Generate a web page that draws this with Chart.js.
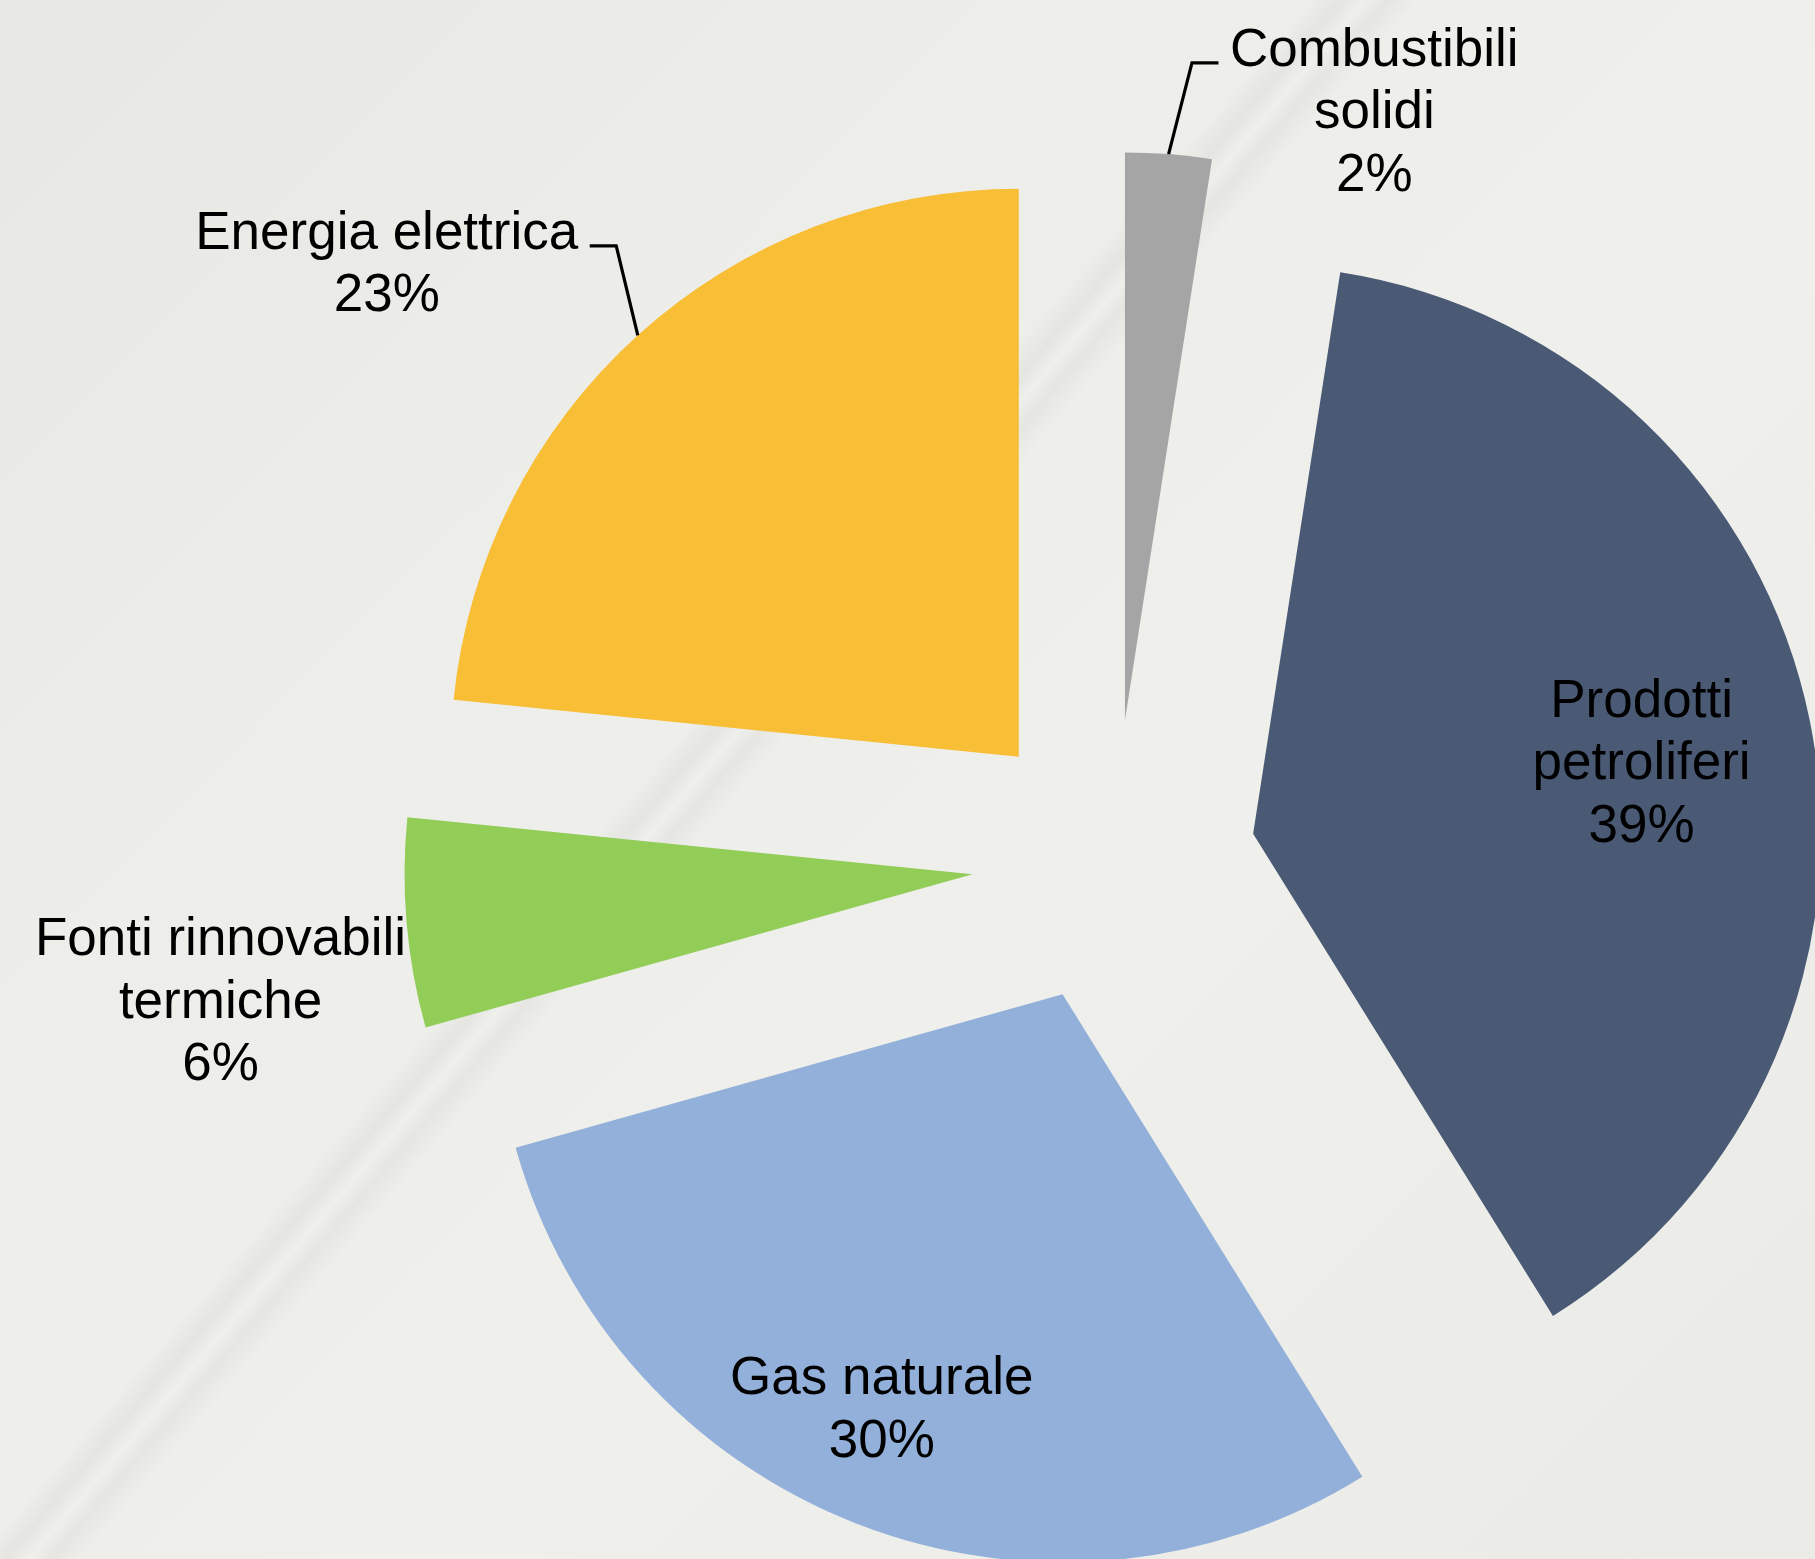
<!DOCTYPE html>
<html>
<head>
<meta charset="utf-8">
<script src="https://cdn.jsdelivr.net/npm/chart.js@4.4.1/dist/chart.umd.min.js"></script>
<style>
html, body { margin: 0; padding: 0; }
body {
  width: 1815px; height: 1559px; overflow: hidden;
  background:
    linear-gradient(130.6deg, rgba(0,0,0,0) 41.6%, rgba(120,120,115,0.08) 42.6%, rgba(255,255,255,0.06) 43.3%, rgba(120,120,115,0.07) 44.0%, rgba(0,0,0,0) 45.0%),
    linear-gradient(135deg, #e7e7e4 0%, #ededea 30%, #efefec 60%, #eaeae7 100%);
}
#wrap { position: relative; width: 1815px; height: 1559px; }
canvas { display: block; }
</style>
</head>
<body>
<div id="wrap"><canvas id="c" width="1815" height="1559"></canvas></div>
<script>
// ---- data ----
const categories = [
  ['Combustibili', 'solidi'],
  ['Prodotti', 'petroliferi'],
  ['Gas naturale'],
  ['Fonti rinnovabili', 'termiche'],
  ['Energia elettrica']
];
const values = [2.45, 38.7, 29.5, 5.95, 23.4];
const colors = ['#A5A5A5', '#4A5A75', '#92B0D9', '#92CD58', '#F8BE36'];

// ---- style / layout ----
const EXPLODE = 142;       // px each slice is pulled out
const PIE_RADIUS = 568;    // px
const FONT = '53px "Liberation Sans", Arial, sans-serif';
const LINE_H = 62.5;
const CAP_HALF = 19;
// label placement: angle (deg, clockwise from up) and distance (x radius) from the exploded slice apex
const labelPlacement = [
  { angle: 22.2,  dist: 1.162, leader: 'right' },
  { angle: 79.3,  dist: 0.696 },
  { angle: 203.7, dist: 0.792 },
  { angle: 260.6, dist: 1.342 },
  { angle: 308.1, dist: 1.414, leader: 'left' }
];

const explodePlugin = {
  id: 'explodeLabels',
  beforeDatasetDraw(chart, args) {
    const ctx = chart.ctx;
    args.meta.data.forEach(arc => {
      const mid = (arc.startAngle + arc.endAngle) / 2;
      ctx.save();
      ctx.translate(Math.cos(mid) * EXPLODE, Math.sin(mid) * EXPLODE);
      arc.draw(ctx);
      ctx.restore();
    });
    return false;
  },
  afterDatasetsDraw(chart) {
    const ctx = chart.ctx;
    const meta = chart.getDatasetMeta(0);
    const data = chart.data.datasets[0].data;
    const total = data.reduce((a, b) => a + b, 0);
    ctx.save();
    ctx.font = FONT;
    ctx.fillStyle = '#000';
    ctx.textAlign = 'center';
    ctx.textBaseline = 'alphabetic';
    meta.data.forEach((arc, i) => {
      const mid = (arc.startAngle + arc.endAngle) / 2;
      const R = arc.outerRadius;
      const ax = arc.x + Math.cos(mid) * EXPLODE;
      const ay = arc.y + Math.sin(mid) * EXPLODE;
      const p = labelPlacement[i];
      const a = p.angle * Math.PI / 180;
      const cx = ax + Math.sin(a) * p.dist * R;
      const cy = ay - Math.cos(a) * p.dist * R;
      const lines = chart.data.labels[i].concat([Math.round(data[i] / total * 100) + '%']);
      const n = lines.length;
      const baselines = lines.map((_, k) => cy + (k - (n - 1) / 2) * LINE_H + CAP_HALF);
      lines.forEach((t, k) => ctx.fillText(t, cx, baselines[k]));
      if (p.leader) {
        const w = ctx.measureText(lines[0]).width;
        const sx = ax + Math.cos(mid) * R;
        const sy = ay + Math.sin(mid) * R;
        const side = p.leader === 'right' ? -1 : 1;
        const edge = p.leader === 'right' ? cx - w / 2 : cx + w / 2;
        const ly = baselines[0] - 3;
        ctx.save();
        ctx.strokeStyle = '#000';
        ctx.lineWidth = 3.2;
        ctx.beginPath();
        ctx.moveTo(sx, sy);
        ctx.lineTo(edge + side * 38, ly);
        ctx.lineTo(edge + side * 11.5, ly);
        ctx.stroke();
        ctx.restore();
      }
    });
    ctx.restore();
  }
};

new Chart(document.getElementById('c'), {
  type: 'pie',
  data: {
    labels: categories,
    datasets: [{
      data: values,
      backgroundColor: colors,
      borderWidth: 0,
      offset: 0,
      radius: PIE_RADIUS
    }]
  },
  options: {
    responsive: false,
    animation: false,
    events: [],
    layout: { padding: { left: 413, top: 165, right: 0, bottom: 0 } },
    plugins: { legend: { display: false }, tooltip: { enabled: false } }
  },
  plugins: [explodePlugin]
});
</script>
</body>
</html>
